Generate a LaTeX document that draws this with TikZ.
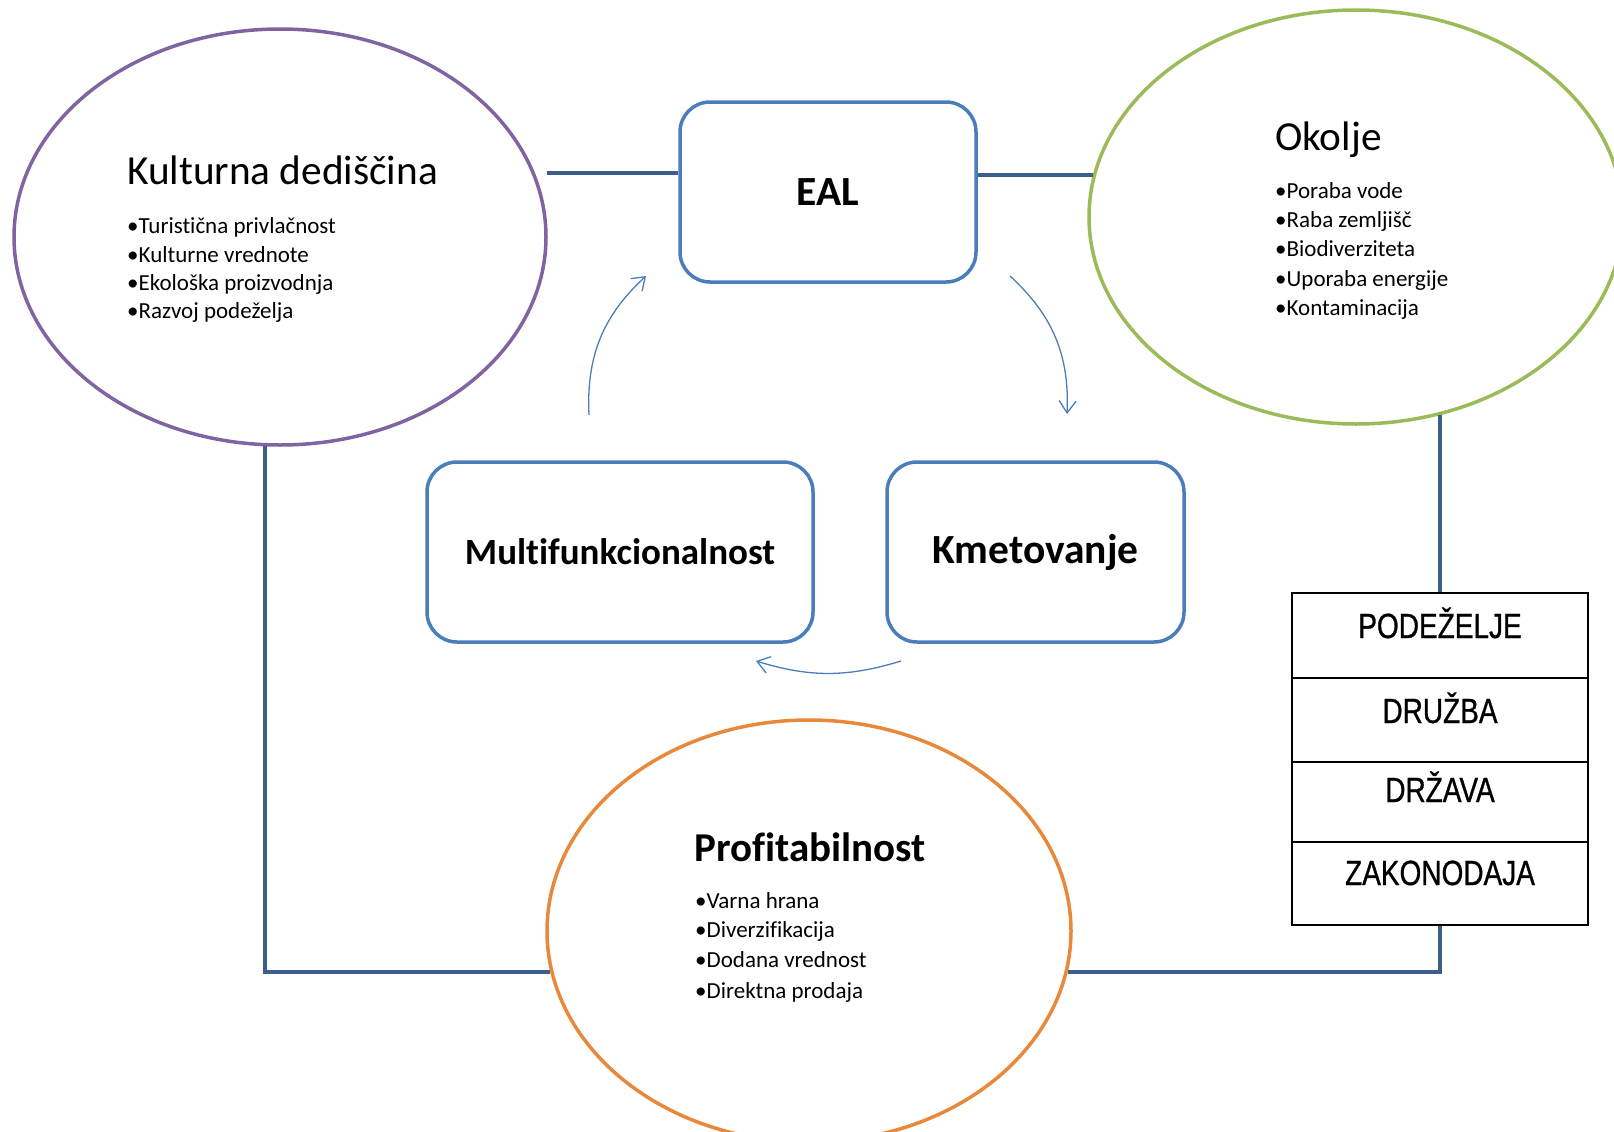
\documentclass[tikz,border=0pt]{standalone}
\usepackage{fontspec}
\setmainfont{Carlito}[Ligatures=NoCommon]
\newfontfamily\tablefont[FakeStretch=0.8,FakeBold=0.8]{Liberation Sans}
\usetikzlibrary{shapes.geometric,arrows.meta}

\definecolor{kultcol}{HTML}{8064A2}
\definecolor{okocol}{HTML}{9BBB59}
\definecolor{profcol}{HTML}{E8883A}
\definecolor{boxcol}{HTML}{4A7EBB}
\definecolor{linecol}{HTML}{3B5E8C}

\tikzset{
  krog/.style={draw, ellipse, line width=3.5pt, inner sep=0pt},
  okvir/.style={draw=boxcol, line width=3.5pt, rounded corners=30pt, minimum height=180pt, font=\fontsize{41.5}{48}\selectfont\bfseries},
  povezava/.style={linecol, line width=4pt},
  puscica/.style={boxcol, line width=1.3pt, -{Straight Barb[length=12pt,width=17pt]}},
  naslov/.style={anchor=base west, inner sep=0pt, font=\fontsize{41.3}{48}\selectfont},
  alineja/.style={anchor=base west, inner sep=0pt, font=\fontsize{23}{28}\selectfont},
  celica/.style={draw, line width=1.5pt, minimum width=296pt},
  napis/.style={anchor=base, inner sep=0pt, font=\tablefont\fontsize{35}{40}\selectfont}
}

\begin{document}
\begin{tikzpicture}[x=1pt, y=-1pt]

\useasboundingbox (0,0) rectangle (1614,1132);
\clip (0,0) rectangle (1614,1132);

% Elipse
\node[krog, draw=kultcol, minimum width=532pt, minimum height=416pt] (kult) at (280,237) {};
\node[krog, draw=okocol, minimum width=534pt, minimum height=414pt] (oko) at (1356,217) {};
\node[krog, draw=profcol, minimum width=524pt, minimum height=422pt] (prof) at (809,931) {};

% Okvirji
\node[okvir, minimum width=296pt] (eal) at (828,192) {EAL};
\node[okvir, minimum width=386pt, font=\fontsize{37}{44}\selectfont\bfseries] (multi) at (620,552) {Multifunkcionalnost};
\node[okvir, minimum width=297pt] (kmet) at (1035.5,552) {Kmetovanje};

% Besedila v elipsah
\node[naslov] (kultnaslov) at (127,184) {Kulturna dediščina};
\node[alineja] (k1) at (127,233) {•Turistična privlačnost};
\node[alineja] (k2) at (127,262) {•Kulturne vrednote};
\node[alineja] (k3) at (127,290) {•Ekološka proizvodnja};
\node[alineja] (k4) at (127,318) {•Razvoj podeželja};

\node[naslov] (okonaslov) at (1275,150) {Okolje};
\node[alineja] (o1) at (1275,198) {•Poraba vode};
\node[alineja] (o2) at (1275,227.5) {•Raba zemljišč};
\node[alineja] (o3) at (1275,256.5) {•Biodiverziteta};
\node[alineja] (o4) at (1275,286) {•Uporaba energije};
\node[alineja] (o5) at (1275,315) {•Kontaminacija};

\node[naslov, font=\fontsize{41}{48}\selectfont\bfseries] (profnaslov) at (694,861) {Profitabilnost};
\node[alineja] (p1) at (695,908) {•Varna hrana};
\node[alineja] (p2) at (695,937) {•Diverzifikacija};
\node[alineja] (p3) at (695,967) {•Dodana vrednost};
\node[alineja] (p4) at (695,998) {•Direktna prodaja};

% Tabela
\node[celica, minimum height=85pt] (r1) at (1440,635.5) {};
\node[celica, minimum height=84pt] (r2) at (1440,720) {};
\node[celica, minimum height=80pt] (r3) at (1440,802) {};
\node[celica, minimum height=83pt] (r4) at (1440,883.5) {};
\node[napis] (t1) at (1440,638) {PODEŽELJE};
\node[napis] (t2) at (1440,723) {DRUŽBA};
\node[napis] (t3) at (1440,802) {DRŽAVA};
\node[napis] (t4) at (1440,885) {ZAKONODAJA};

% Povezave
\draw[povezava, shorten <=12pt] (kult.14) -- (kult.14 -| eal.west);
\draw[povezava] (eal.east |- oko.171) -- (oko.171);
\draw[povezava] (oko.-67.4) -- (oko.-67.4 |- r1.north);
\draw[povezava] (r4.south -| oko.-67.4) |- (prof.-9.75);
\draw[povezava] (kult.-94) |- (prof.189.75);

% Puscice
\coordinate (a1) at (589,415);
\coordinate (a2) at (646,276);
\coordinate (b1) at (1010,276);
\coordinate (b2) at (1067,414);
\coordinate (c1) at (901,661);
\coordinate (c2) at (756,661);
\draw[puscica] (a1) to[bend left=25] (a2);
\draw[puscica] (b1) to[bend left=25] (b2);
\draw[puscica] (c1) to[bend left=17] (c2);

\end{tikzpicture}
\end{document}
